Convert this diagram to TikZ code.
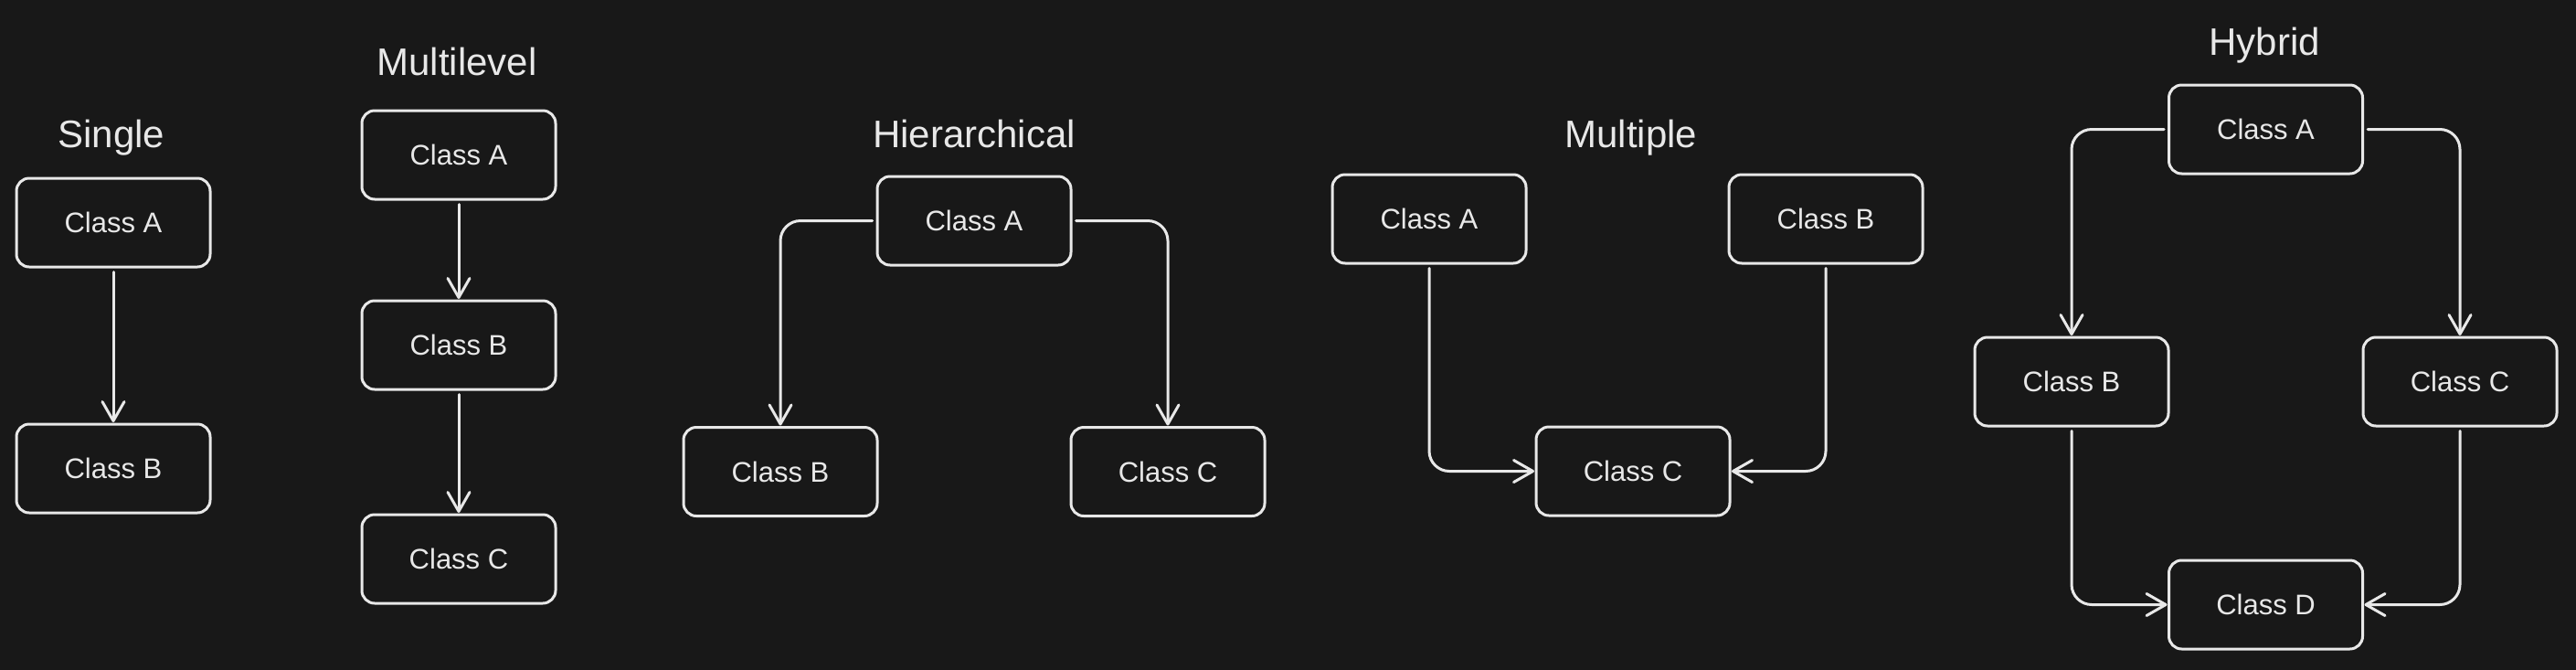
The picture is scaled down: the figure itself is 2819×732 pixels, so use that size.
\documentclass[tikz,border=0pt]{standalone}
\usepackage{fontspec}
\setmainfont{Liberation Sans}
\usetikzlibrary{arrows.meta}
\definecolor{bg}{HTML}{181818}
\definecolor{ink}{HTML}{E8E8E8}
\begin{document}
\begin{tikzpicture}[x=1pt,y=-1pt,
  cls/.style={draw=ink, fill=bg, line width=3pt, rounded corners=14pt,
    minimum width=212pt, minimum height=97pt, inner sep=0pt, text=ink,
    font=\fontsize{31}{37}\selectfont},
  ttl/.style={text=ink, font=\fontsize{42}{50}\selectfont, inner sep=0pt, anchor=base},
  conn/.style={draw=ink, line width=3pt, rounded corners=22pt, line cap=round,
    -{Straight Barb[length=21pt,width=24pt,round]}, shorten >=0.5pt, shorten <=4pt}]
\useasboundingbox (0,0) rectangle (2819,732);
\fill[bg] (-5,-5) rectangle (2824,737);

% Single
\node[ttl] (sT) at (122,161) {Single};
\node[cls] (sA) at (124,243.5) {Class A};
\node[cls] (sB) at (124,512.5) {Class B};
\draw[conn] (sA) -- (sB);

% Multilevel
\node[ttl] (mT) at (500,82) {Multilevel};
\node[cls] (mA) at (502,169.5) {Class A};
\node[cls] (mB) at (502,377.5) {Class B};
\node[cls] (mC) at (502,611.5) {Class C};
\draw[conn] (mA) -- (mB);
\draw[conn] (mB) -- (mC);

% Hierarchical
\node[ttl] (hT) at (1066,161) {Hierarchical};
\node[cls] (hA) at (1066,241.5) {Class A};
\node[cls] (hB) at (854,516) {Class B};
\node[cls] (hC) at (1278,516) {Class C};
\draw[conn] (hA.west) -| (hB.north);
\draw[conn] (hA.east) -| (hC.north);

% Multiple
\node[ttl] (pT) at (1785,161) {Multiple};
\node[cls] (pA) at (1564,239.5) {Class A};
\node[cls] (pB) at (1998,239.5) {Class B};
\node[cls] (pC) at (1787,515.5) {Class C};
\draw[conn] (pA.south) |- (pC.west);
\draw[conn] (pB.south) |- (pC.east);

% Hybrid
\node[ttl] (yT) at (2478,60) {Hybrid};
\node[cls] (yA) at (2479.5,141.5) {Class A};
\node[cls] (yB) at (2267,417.5) {Class B};
\node[cls] (yC) at (2692,417.5) {Class C};
\node[cls] (yD) at (2479.5,661.5) {Class D};
\draw[conn] (yA.west) -| (yB.north);
\draw[conn] (yA.east) -| (yC.north);
\draw[conn] (yB.south) |- (yD.west);
\draw[conn] (yC.south) |- (yD.east);
\end{tikzpicture}
\end{document}
